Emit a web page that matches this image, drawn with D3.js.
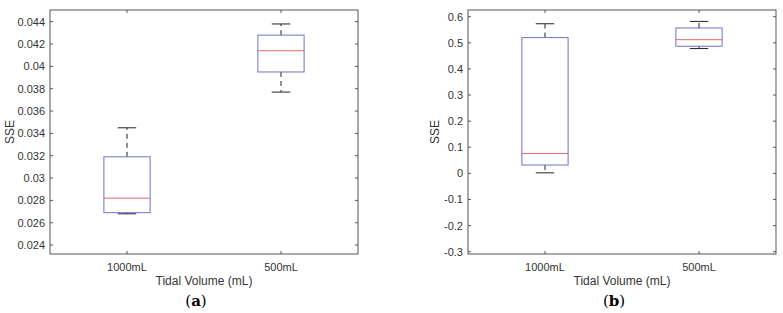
<!DOCTYPE html>
<html>
<head>
<meta charset="utf-8">
<script src="https://cdn.jsdelivr.net/npm/d3@7"></script>
<style>
  body { margin: 0; background: #fff; }
  svg { display: block; }
  text { font-family: "Liberation Sans", Arial, sans-serif; fill: #333; }
</style>
</head>
<body>
<svg id="chart"></svg>
<script>
// Categories and box stats
const categories = ['1000mL', '500mL'];

// (a)
const loA = [0.0268, 0.0377];
const q1A = [0.0269, 0.0395];
const medA = [0.0282, 0.0414];
const q3A = [0.0319, 0.0428];
const hiA = [0.0345, 0.0438];
const ticksA = [0.024, 0.026, 0.028, 0.03, 0.032, 0.034, 0.036, 0.038, 0.04, 0.042, 0.044];

// (b)
const loB = [0.002, 0.478];
const q1B = [0.032, 0.487];
const medB = [0.076, 0.512];
const q3B = [0.52, 0.557];
const hiB = [0.573, 0.582];
const ticksB = [-0.3, -0.2, -0.1, 0, 0.1, 0.2, 0.3, 0.4, 0.5, 0.6];

const width = 783;
const height = 313;

const svg = d3.select('#chart')
  .attr('width', width)
  .attr('height', height);

function panel(opts) {
  const { left, right, top, bottom, domain, ticks, lo, q1, med, q3, hi, ylabX, letter } = opts;
  const g = svg.append('g');

  // x scale as category index, MATLAB-like limits [0.5, 2.5]
  const x = d3.scaleLinear().domain([0.5, 2.5]).range([left, right]);
  const y = d3.scaleLinear().domain(domain).range([bottom, top]);

  const halfBox = (x(1.15) - x(1));
  const halfCap = (x(1.06) - x(1));

  // frame
  g.append('rect')
    .attr('x', left).attr('y', top)
    .attr('width', right - left).attr('height', bottom - top)
    .attr('fill', 'none').attr('stroke', '#555').attr('stroke-width', 1);

  // y ticks (inside, both sides)
  ticks.forEach(t => {
    const yy = y(t);
    g.append('line').attr('x1', left).attr('x2', left + 3).attr('y1', yy).attr('y2', yy).attr('stroke', '#555');
    g.append('line').attr('x1', right).attr('x2', right - 3).attr('y1', yy).attr('y2', yy).attr('stroke', '#555');
    g.append('text')
      .attr('x', left - 5).attr('y', yy + 4)
      .attr('text-anchor', 'end')
      .style('font-size', '11px')
      .text(String(+t.toFixed(3)));
  });

  // x ticks (inside, bottom and top)
  categories.forEach((c, i) => {
    const xx = x(i + 1);
    g.append('line').attr('x1', xx).attr('x2', xx).attr('y1', bottom).attr('y2', bottom - 3).attr('stroke', '#555');
    g.append('line').attr('x1', xx).attr('x2', xx).attr('y1', top).attr('y2', top + 3).attr('stroke', '#555');
    g.append('text')
      .attr('x', xx).attr('y', bottom + 17)
      .attr('text-anchor', 'middle')
      .style('font-size', '11px')
      .text(c);
  });

  // boxes
  categories.forEach((c, i) => {
    const cx = x(i + 1);
    // whiskers
    g.append('line').attr('x1', cx).attr('x2', cx).attr('y1', y(q3[i])).attr('y2', y(hi[i]))
      .attr('stroke', '#222').attr('stroke-dasharray', '5,4');
    g.append('line').attr('x1', cx).attr('x2', cx).attr('y1', y(q1[i])).attr('y2', y(lo[i]))
      .attr('stroke', '#222').attr('stroke-dasharray', '5,4');
    // caps
    g.append('line').attr('x1', cx - halfCap).attr('x2', cx + halfCap).attr('y1', y(hi[i])).attr('y2', y(hi[i]))
      .attr('stroke', '#222');
    g.append('line').attr('x1', cx - halfCap).attr('x2', cx + halfCap).attr('y1', y(lo[i])).attr('y2', y(lo[i]))
      .attr('stroke', '#222');
    // box
    g.append('rect')
      .attr('x', cx - halfBox).attr('y', y(q3[i]))
      .attr('width', 2 * halfBox).attr('height', y(q1[i]) - y(q3[i]))
      .attr('fill', 'none').attr('stroke', '#7070cc').attr('stroke-width', 1);
    // median
    g.append('line').attr('x1', cx - halfBox).attr('x2', cx + halfBox).attr('y1', y(med[i])).attr('y2', y(med[i]))
      .attr('stroke', '#e06a6a');
  });

  // labels
  const mid = (left + right) / 2;
  g.append('text')
    .attr('transform', `translate(${ylabX}, ${(top + bottom) / 2}) rotate(-90)`)
    .attr('text-anchor', 'middle')
    .attr('dy', '0.35em')
    .style('font-size', '12px')
    .text('SSE');
  g.append('text')
    .attr('x', mid).attr('y', bottom + 31)
    .attr('text-anchor', 'middle')
    .style('font-size', '12px')
    .text('Tidal Volume (mL)');
  const lt = g.append('text')
    .attr('x', mid - 8).attr('y', bottom + 52)
    .attr('text-anchor', 'middle')
    .style('font-family', '"DejaVu Serif", "Liberation Serif", serif')
    .style('font-size', '15px')
    .style('fill', '#000');
  lt.append('tspan').text('(');
  lt.append('tspan').style('font-weight', 'bold').text(letter);
  lt.append('tspan').text(')');
}

panel({ left: 50, right: 358, top: 10, bottom: 254, domain: [0.0232, 0.04505], ticks: ticksA,
  lo: loA, q1: q1A, med: medA, q3: q3A, hi: hiA, ylabX: 10, letter: 'a' });
panel({ left: 468, right: 776, top: 10, bottom: 254, domain: [-0.3088, 0.6257], ticks: ticksB,
  lo: loB, q1: q1B, med: medB, q3: q3B, hi: hiB, ylabX: 435, letter: 'b' });
</script>
</body>
</html>
